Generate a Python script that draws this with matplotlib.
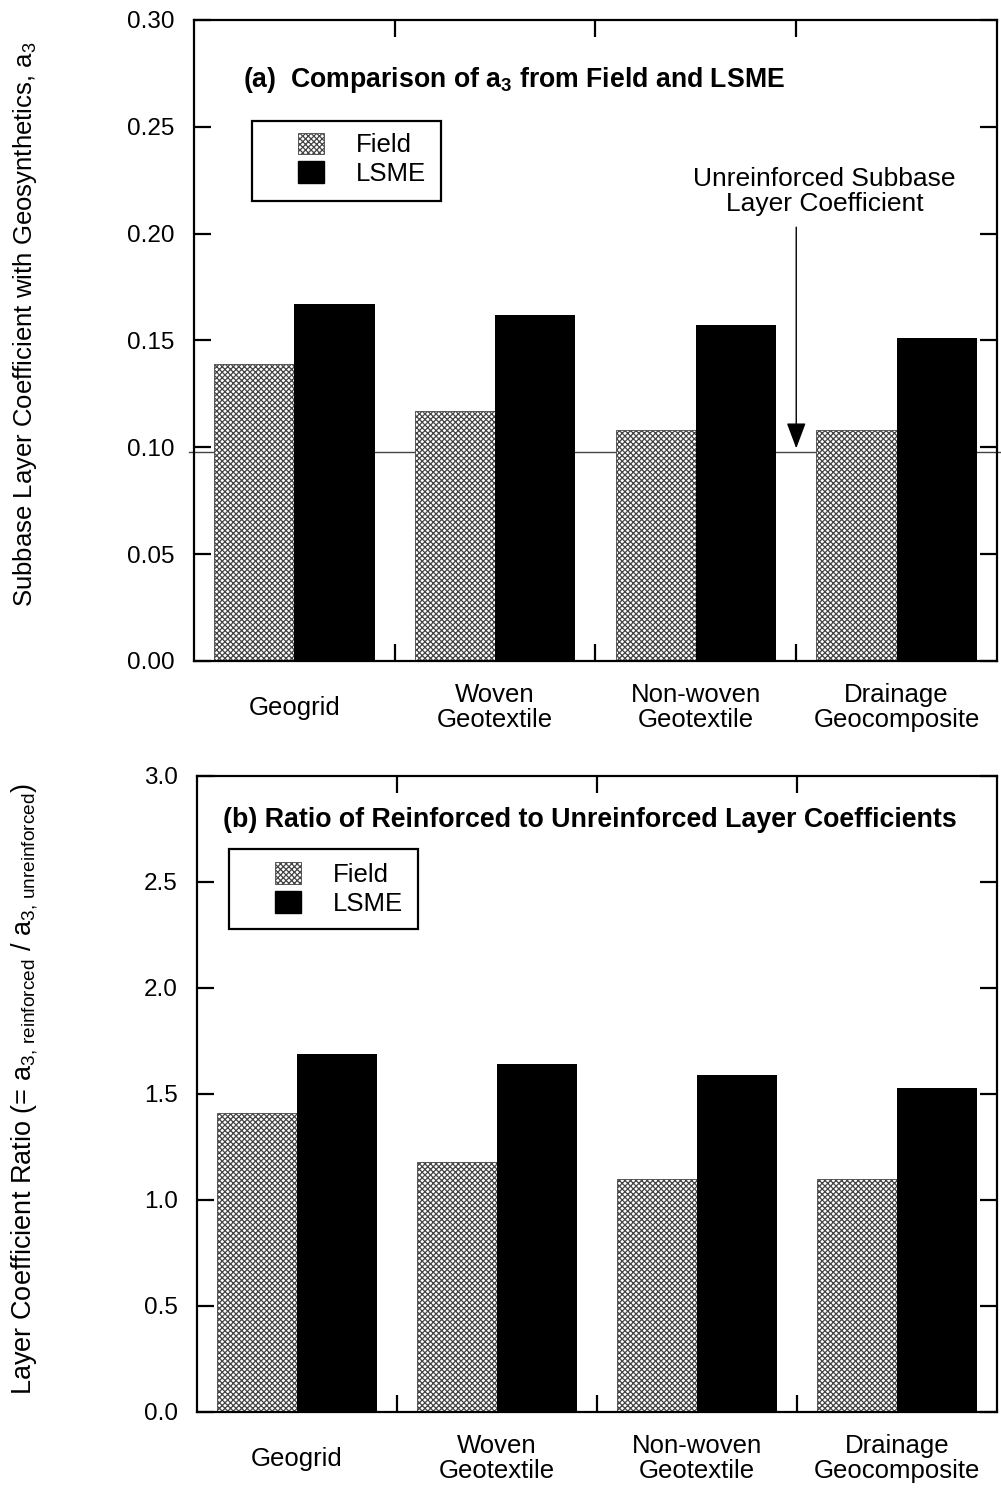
import matplotlib
matplotlib.use('Agg')
from matplotlib import pyplot as plt
from matplotlib import transforms
from matplotlib.patches import Rectangle, Patch
import numpy as np

# data
categories = ['Geogrid', 'Woven\nGeotextile', 'Non-woven\nGeotextile', 'Drainage\nGeocomposite']
field_a3 = [0.139, 0.117, 0.108, 0.108]
lsme_a3 = [0.167, 0.162, 0.157, 0.151]
unreinforced_a3 = 0.098
field_ratio = [1.41, 1.18, 1.10, 1.10]
lsme_ratio = [1.69, 1.64, 1.59, 1.53]

plt.rcParams['font.family'] = ['Liberation Sans', 'DejaVu Sans']
plt.rcParams['mathtext.fontset'] = 'custom'
plt.rcParams['mathtext.rm'] = 'Liberation Sans'
plt.rcParams['mathtext.it'] = 'Liberation Sans'
plt.rcParams['mathtext.bf'] = 'Liberation Sans:bold'
plt.rcParams['hatch.linewidth'] = 0.9
plt.rcParams['hatch.color'] = '#2a2a2a'

fig = plt.figure(figsize=(10.01, 14.88), dpi=100)
ax1 = fig.add_axes([0.1938, 0.5558, 0.8022, 0.4308])
ax2 = fig.add_axes([0.1968, 0.0511, 0.7992, 0.4274])

x = np.arange(len(categories))
w = 0.4
HATCH = 'xxxxxx'


def style_axes(ax, ylim, yticks, fmt):
    ax.set_xlim(-0.5, len(categories) - 0.5)
    ax.set_ylim(*ylim)
    ax.set_yticks(yticks)
    ax.set_yticklabels([fmt % t for t in yticks])
    ax.set_xticks(x[:-1] + 0.5)
    ax.set_xticklabels([])
    ax.tick_params(axis='both', direction='in', length=12, width=1.6,
                   top=True, right=True, labelsize=17.5, pad=14)
    for s in ax.spines.values():
        s.set_linewidth(1.6)
    lab_tr = transforms.offset_copy(ax.get_xaxis_transform(), fig=fig, y=-47, units='dots')
    for xi, c in zip(x, categories):
        ax.text(xi, 0, c, transform=lab_tr, ha='center', va='center',
                fontsize=18.5, linespacing=1.05)


def draw_legend(ax, frame, anchor):
    ax.add_patch(Rectangle((frame[0], frame[1]), frame[2], frame[3], transform=ax.transAxes,
                           fill=False, edgecolor='black', linewidth=1.6, zorder=5))
    handles = [Patch(facecolor='white', edgecolor='#444444', hatch=HATCH, linewidth=0.6),
               Patch(facecolor='black', edgecolor='black')]
    ax.legend(handles, ['Field', 'LSME'], loc='upper left', bbox_to_anchor=anchor,
              frameon=False, fontsize=18.5, borderpad=0, borderaxespad=0,
              handlelength=1.0, handleheight=0.92, handletextpad=1.25, labelspacing=0.15)


# (a)
ax1.axhline(unreinforced_a3, xmin=-0.006, xmax=1.006, color='#444444', linewidth=1.0,
            clip_on=False, zorder=1)
ax1.bar(x - w / 2, field_a3, w, facecolor='white', edgecolor='#444444', hatch=HATCH,
        linewidth=0.6, zorder=2)
ax1.bar(x + w / 2, lsme_a3, w, color='black', zorder=2)
style_axes(ax1, (0, 0.30), np.arange(0, 0.301, 0.05), '%.2f')
ax1.text(0.061, 0.906, r'(a)  Comparison of $\mathbf{a_3}$ from Field and LSME',
         transform=ax1.transAxes, fontsize=19.2, fontweight='bold', va='center', ha='left')
draw_legend(ax1, (0.0722, 0.7176, 0.2354, 0.1248), (0.1295, 0.824))
ax1.annotate('', xy=(2.5, 0.0995), xytext=(2.5, 0.203),
             arrowprops=dict(arrowstyle='-|>,head_length=0.8,head_width=0.3',
                             mutation_scale=20, color='black', linewidth=1.0,
                             shrinkA=0, shrinkB=0))
ax1.text(2.64, 0.2195, 'Unreinforced Subbase\nLayer Coefficient', ha='center', va='center',
         fontsize=19, linespacing=1.05)

# (b)
ax2.bar(x - w / 2, field_ratio, w, facecolor='white', edgecolor='#444444', hatch=HATCH,
        linewidth=0.6, zorder=2)
ax2.bar(x + w / 2, lsme_ratio, w, color='black', zorder=2)
style_axes(ax2, (0, 3.0), np.arange(0, 3.01, 0.5), '%.1f')
ax2.text(0.033, 0.931, '(b) Ratio of Reinforced to Unreinforced Layer Coefficients',
         transform=ax2.transAxes, fontsize=19.3, fontweight='bold', va='center', ha='left')
draw_legend(ax2, (0.04, 0.7594, 0.236, 0.1256), (0.0975, 0.864))

fig.text(0.025, 0.782, r'Subbase Layer Coefficient with Geosynthetics, $\mathrm{a_3}$',
         rotation=90, ha='center', va='center', fontsize=18.5)
fig.text(0.025, 0.268,
         r'Layer Coefficient Ratio (= $\mathrm{a_{3,\,reinforced}}$ / $\mathrm{a_{3,\,unreinforced}}$)',
         rotation=90, ha='center', va='center', fontsize=19.5)

fig.savefig('out.png', dpi=100)
